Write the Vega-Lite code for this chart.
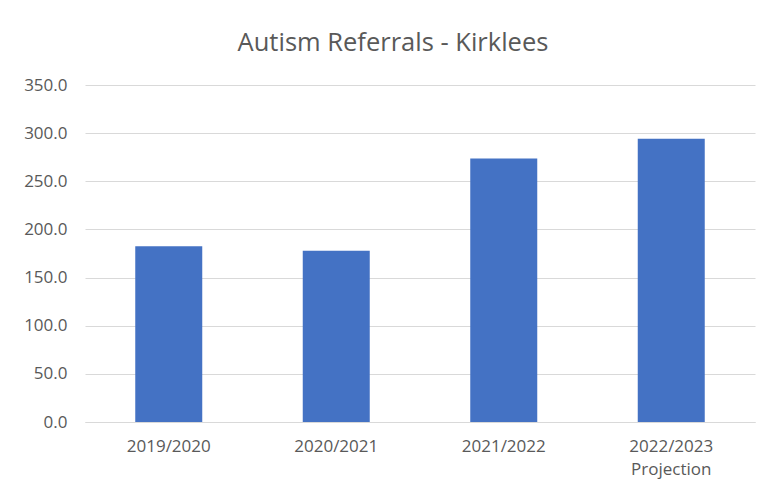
{
  "$schema": "https://vega.github.io/schema/vega-lite/v6.json",
  "autosize": {"type": "none"},
  "width": 670,
  "height": 337,
  "padding": {"left": 85, "top": 85, "right": 10, "bottom": 73},
  "background": "white",
  "title": {
    "text": "Autism Referrals - Kirklees",
    "font": "Open Sans",
    "fontSize": 25.5,
    "fontWeight": "normal",
    "color": "#595959",
    "anchor": "middle",
    "dx": -27,
    "offset": 20
  },
  "data": {
    "values": [
      {"year": "2019/2020", "referrals": 182.6},
      {"year": "2020/2021", "referrals": 177.8},
      {"year": "2021/2022", "referrals": 273.7},
      {"year": "2022/2023 Projection", "referrals": 294.2}
    ]
  },
  "mark": {"type": "bar", "color": "#4472C4"},
  "encoding": {
    "x": {
      "field": "year",
      "type": "nominal",
      "sort": null,
      "scale": {"paddingInner": 0.6, "paddingOuter": 0.3},
      "axis": {
        "title": null,
        "labelAngle": 0,
        "labelExpr": "split(datum.label, ' ')",
        "labelFont": "Open Sans",
        "labelFontSize": 17,
        "labelColor": "#595959",
        "labelPadding": 16,
        "labelLineHeight": 23,
        "ticks": false,
        "domainColor": "#d9d9d9",
        "domainWidth": 1
      }
    },
    "y": {
      "field": "referrals",
      "type": "quantitative",
      "scale": {"domain": [0, 350], "nice": false},
      "axis": {
        "title": null,
        "values": [0, 50, 100, 150, 200, 250, 300, 350],
        "format": ".1f",
        "labelFont": "Open Sans",
        "labelFontSize": 17,
        "labelColor": "#595959",
        "labelPadding": 18,
        "ticks": false,
        "domain": false,
        "gridColor": "#d9d9d9",
        "gridWidth": 1
      }
    }
  },
  "config": {"view": {"stroke": null}}
}
